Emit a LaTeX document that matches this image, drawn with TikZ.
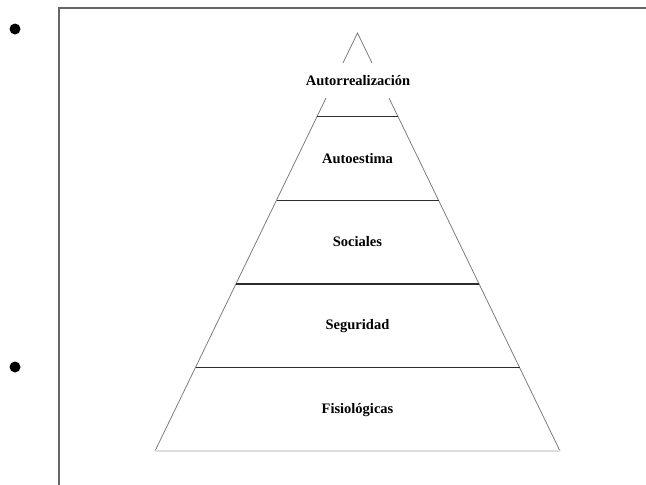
\documentclass[tikz,border=0pt]{standalone}
\usepackage{fontspec}
\setmainfont{Liberation Serif}
\usepackage{tikz}
\usetikzlibrary{calc}
\definecolor{gris}{RGB}{102, 102, 102}
\definecolor{grisLado}{RGB}{125, 125, 125}
\definecolor{grisBase}{RGB}{222, 222, 222}
\definecolor{oscuro}{RGB}{45, 45, 45}
\tikzset{
    nivel/.style={font=\fontsize{14.5}{17}\selectfont\bfseries, text=black, inner sep=0pt},
    cima/.style={nivel, fill=white, minimum height=35pt, inner xsep=2pt},
    punto/.style={circle, fill=black, inner sep=0pt, minimum size=11pt},
    marco/.style={draw=gris, line width=2pt},
    ladoP/.style={draw=grisLado, line width=0.8pt},
    piso/.style={draw=oscuro, line width=1.4pt},
    base/.style={draw=grisBase, line width=1.6pt},
}
\begin{document}
\begin{tikzpicture}[x=1pt, y=-1pt]
    \useasboundingbox (0,0) rectangle (646,485);

    \coordinate (m1) at (646,8);
    \coordinate (m2) at (59,8);
    \coordinate (m3) at (59,485);
    \draw[marco] (m1) -- (m2) -- (m3);

    \node[punto] (p1) at (15,29) {};
    \node[punto] (p2) at (15,367) {};

    \coordinate (apex) at (357.5,33);
    \coordinate (bi) at (155,451);
    \coordinate (bd) at (560,451);

    \draw[ladoP] (bi) -- (apex) -- (bd);
    \draw[base] (bi) -- (bd);

    \coordinate (i1) at ($(apex)!0.2!(bi)$);
    \coordinate (d1) at ($(apex)!0.2!(bd)$);
    \coordinate (i2) at ($(apex)!0.4!(bi)$);
    \coordinate (d2) at ($(apex)!0.4!(bd)$);
    \coordinate (i3) at ($(apex)!0.6!(bi)$);
    \coordinate (d3) at ($(apex)!0.6!(bd)$);
    \coordinate (i4) at ($(apex)!0.8!(bi)$);
    \coordinate (d4) at ($(apex)!0.8!(bd)$);

    \draw[piso] (i1) -- (d1);
    \draw[piso] (i2) -- (d2);
    \draw[piso] (i3) -- (d3);
    \draw[piso] (i4) -- (d4);

    \node[cima] (n5) at (358,80.5) {Autorrealización};
    \node[nivel] (n4) at (357.5,159) {Autoestima};
    \node[nivel] (n3) at (357.5,242) {Sociales};
    \node[nivel] (n2) at (357.5,326) {Seguridad};
    \node[nivel] (n1) at (357.5,410) {Fisiológicas};
\end{tikzpicture}
\end{document}
